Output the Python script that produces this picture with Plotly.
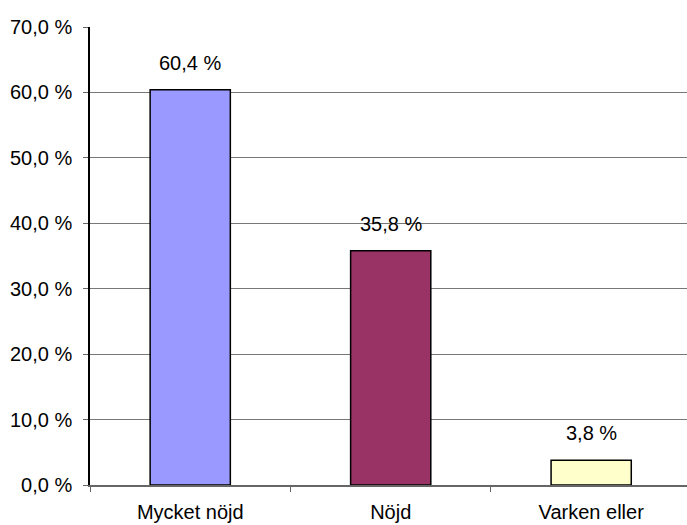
import plotly.graph_objects as go

categories = ["Mycket nöjd", "Nöjd", "Varken eller"]
values = [60.4, 35.8, 3.8]
bar_colors = ["#9999FF", "#993366", "#FFFFCC"]
value_labels = ["60,4 %", "35,8 %", "3,8 %"]
y_tickvals = [0, 10, 20, 30, 40, 50, 60, 70]
y_ticktext = ["0,0 %", "10,0 %", "20,0 %", "30,0 %", "40,0 %", "50,0 %", "60,0 %", "70,0 %"]

FONT = "Liberation Sans, Arial, sans-serif"
FS = 20

fig = go.Figure()
fig.add_trace(go.Bar(
    x=categories,
    y=values,
    width=0.4,
    marker=dict(color=bar_colors, line=dict(color="#000000", width=1.5)),
    hoverinfo="skip",
))

for cat, val, lab in zip(categories, values, value_labels):
    fig.add_annotation(
        x=cat, y=val, text=lab, showarrow=False,
        yanchor="middle", yshift=27,
        font=dict(family=FONT, size=FS, color="#000000"),
    )

fig.update_layout(
    width=687, height=525,
    margin=dict(l=90, r=0, t=27, b=40),
    paper_bgcolor="#FFFFFF", plot_bgcolor="#FFFFFF",
    showlegend=False,
    font=dict(family=FONT, size=FS, color="#000000"),
)
fig.update_xaxes(
    type="category",
    range=[-0.5, 2.478],
    automargin=False,
    showline=True, linecolor="#666666", linewidth=1.5,
    ticks="outside", ticklen=5, tickcolor="#666666",
    tickson="boundaries",
    showgrid=False,
    ticklabelstandoff=8,
    tickfont=dict(family=FONT, size=FS),
)
fig.update_yaxes(
    range=[0, 70],
    automargin=False,
    tickvals=y_tickvals, ticktext=y_ticktext,
    showline=True, linecolor="#000000", linewidth=1.5,
    ticks="outside", ticklen=5, tickcolor="#666666",
    showgrid=True, gridcolor="#777777", gridwidth=1,
    zeroline=False,
    ticklabelstandoff=7,
    tickfont=dict(family=FONT, size=FS),
)

fig.write_html("out.html")
